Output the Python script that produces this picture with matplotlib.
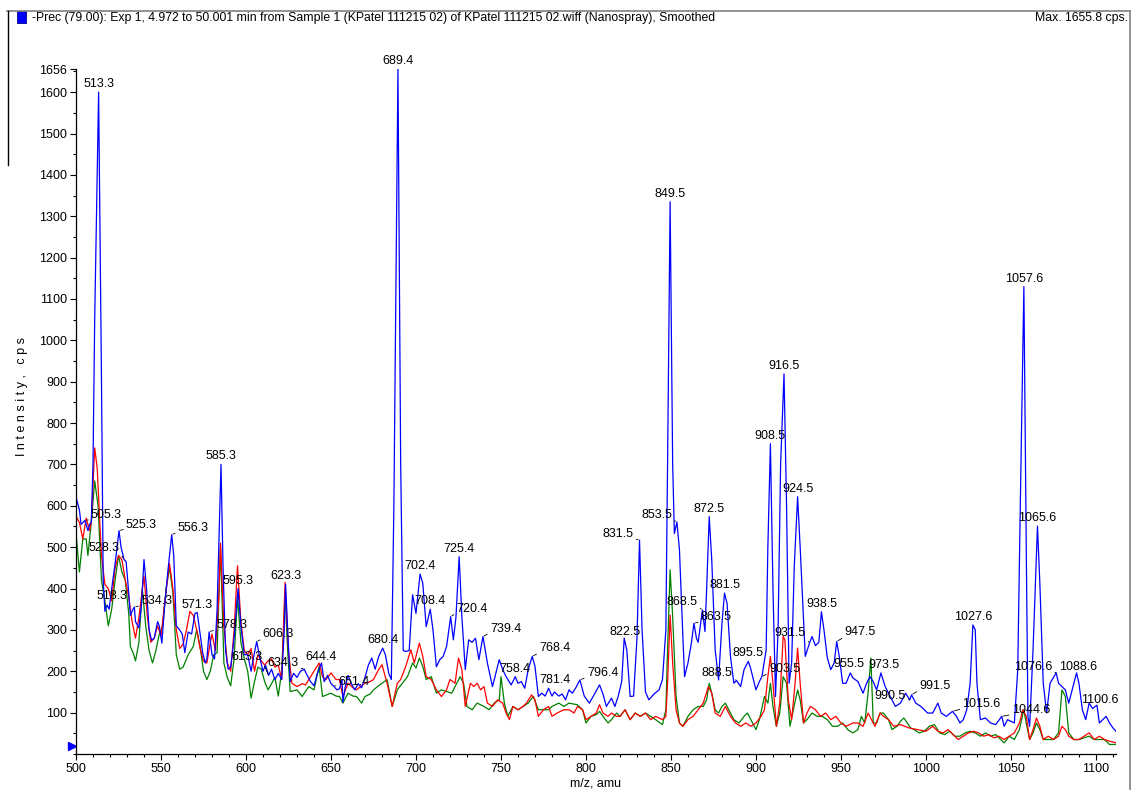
import numpy as np
import matplotlib
matplotlib.use("Agg")
import matplotlib.pyplot as plt
from matplotlib.patches import Rectangle
from matplotlib.lines import Line2D
from matplotlib import transforms
from matplotlib.ticker import MultipleLocator

plt.rcParams['font.family'] = ['Liberation Sans', 'DejaVu Sans']
plt.rcParams['font.size'] = 9

# precursor ion scan, smoothed traces (m/z, cps)
blue_mz = [500, 500.2, 502, 503, 505.3, 507, 508, 509, 510, 511, 513.3, 515, 516, 517, 518.3, 519.5,
           521, 523, 525.3, 526.5, 528.3, 529.5, 531, 532, 533.5, 534.3, 535, 537, 538.5, 540, 541.5,
           543, 544.5, 546, 548, 549, 550.5, 552, 554, 556.3, 557.5, 559, 561, 562.5, 564, 566, 568,
           570, 571.3, 573, 574.5, 576, 577, 578.3, 580, 581.5, 583, 585.3, 586.5, 588, 589.5, 591,
           593, 595.3, 597, 599, 601, 603, 604.5, 606.3, 608, 610, 611.5, 613.3, 615, 617, 619, 621,
           622.5, 623.3, 624.5, 626, 628, 630, 632, 634.3, 636, 638, 640, 642, 644.4, 646, 648, 650,
           651.4, 653.5, 655, 656.5, 657, 658.5, 660, 662, 664, 666, 668, 670, 672, 674, 676, 678,
           680.4, 682, 684, 685.5, 687, 689.4, 691, 692.5, 694, 696, 698, 700, 702.4, 704, 706,
           708.4, 710, 712, 714, 716, 718, 720.4, 722, 723.5, 725.4, 727, 729, 731, 733, 735, 737,
           739.4, 742, 745, 747, 749, 751, 753, 756, 758.4, 760, 762, 764, 766, 768.4, 770, 772,
           774, 776, 778, 780, 781.4, 784, 786, 788, 790, 792, 794, 796.4, 799, 802, 805, 808, 810,
           812, 815, 817, 819, 821, 822.5, 824, 826, 828, 830, 831.5, 833, 835, 837, 840, 843, 845,
           847, 848, 849.5, 851, 852, 853.5, 855, 857, 858, 860, 862, 863.5, 865, 866, 868.5, 870,
           871, 872.5, 874, 876, 878, 880, 881.5, 883, 885, 887, 888.5, 891, 893, 895.5, 897, 900,
           902, 903.5, 906, 907, 908.5, 910, 911.5, 913, 914.5, 916.5, 918, 919.5, 921, 922.5, 924.5,
           926, 927, 929, 931.5, 933, 935, 937, 938.5, 940, 942, 944, 946, 947.5, 949, 951, 953,
           955.5, 957, 960, 963, 965, 967, 969, 971, 973.5, 976, 978, 980, 982, 985, 988, 990.5,
           991.5, 994, 997, 999, 1001, 1004, 1007, 1009, 1012, 1015.6, 1018, 1020, 1022, 1024, 1026,
           1027.6, 1029, 1030, 1032, 1035, 1038, 1041, 1044.6, 1046, 1048, 1050, 1052, 1054, 1055.5,
           1057.6, 1059, 1060, 1061, 1063, 1065.6, 1067, 1069, 1071, 1073, 1076.6, 1078, 1080, 1082,
           1084, 1086, 1088.6, 1090, 1092, 1094, 1096, 1098, 1100.6, 1102, 1104, 1106, 1108, 1110,
           1111.8]
blue_cps = [0, 618, 590, 555, 565, 540, 555, 560, 700, 1050, 1600, 900, 420, 345, 360, 350,
            400, 460, 540, 500, 470, 465, 390, 335, 350, 355, 320, 305, 360, 470, 400,
            300, 275, 280, 320, 310, 268, 350, 440, 530, 480, 310, 300, 290, 245, 295, 290,
            340, 342, 290, 245, 220, 230, 295, 240, 230, 350, 700, 450, 250, 205, 210,
            280, 400, 310, 240, 240, 200, 235, 272, 235, 200, 215, 190, 205, 180, 195, 180,
            300, 410, 300, 175, 195, 185, 200, 205, 190, 175, 165, 195, 220, 175, 190, 170,
            165, 155, 158, 180, 125, 165, 190, 170, 155, 170, 160, 185, 215, 232, 205, 235,
            256, 240, 195, 180, 600, 1656, 700, 250, 248, 250, 385, 340, 435, 413, 308,
            350, 300, 211, 228, 236, 260, 332, 276, 330, 477, 332, 204, 276, 270, 280, 228,
            284, 220, 163, 196, 228, 204, 187, 167, 187, 171, 175, 159, 204, 236, 212, 139,
            147, 140, 159, 140, 150, 140, 145, 131, 155, 147, 160, 179, 140, 123, 145, 167, 145,
            115, 135, 115, 140, 175, 280, 252, 139, 140, 280, 517, 300, 150, 131, 145, 155, 180,
            300, 700, 1335, 700, 533, 561, 493, 284, 187, 220, 268, 316, 280, 270, 348, 296,
            400, 574, 469, 252, 179, 316, 389, 364, 236, 171, 178, 163, 204, 224, 205, 155,
            175, 187, 252, 500, 750, 400, 139, 300, 700, 919, 600, 171, 220, 450, 622,
            500, 413, 236, 268, 284, 262, 270, 344, 300, 232, 204, 220, 272, 236, 171, 171,
            196, 184, 175, 147, 170, 187, 175, 155, 196, 163, 147, 131, 115, 123, 147, 131,
            143, 123, 115, 107, 99, 99, 123, 99, 91, 103, 91, 75, 83, 107, 171,
            312, 300, 171, 83, 87, 75, 71, 91, 67, 83, 79, 75, 204, 600,
            1130, 500, 91, 67, 252, 551, 413, 171, 99, 171, 196, 171, 163, 155,
            123, 155, 196, 171, 107, 83, 123, 110, 118, 75, 83, 91, 75, 63,
            55]

red_mz = [500, 502, 504, 506, 508, 509, 510, 511, 512.5, 514, 515, 517, 519, 521, 523, 525, 527,
          529, 531, 533, 535, 537, 540, 542, 544, 546, 548, 550, 552, 555, 557, 559, 561, 563, 565,
          567, 569, 571, 573, 575, 577, 579, 580, 582, 584, 585, 587, 589, 591, 593, 595, 597, 599,
          601, 603, 605, 607, 609, 611, 613, 615, 617, 619, 621, 623, 625, 627, 630, 633, 635, 638,
          640, 643, 645, 647, 650, 653, 655, 657, 660, 663, 665, 668, 670, 673, 675, 678, 680, 683,
          686, 689, 691, 694, 697, 699, 702, 704, 706, 709, 712, 715, 718, 720, 723, 725, 727, 729,
          732, 734, 736, 738, 740, 742, 745, 748, 751, 753, 755, 757, 760, 763, 765, 768, 770, 772,
          775, 778, 780, 783, 787, 790, 793, 795, 798, 800, 803, 806, 808, 810, 813, 815, 818, 820,
          823, 826, 829, 832, 835, 838, 841, 845, 847, 848, 849.5, 851, 853, 855, 857, 860, 863,
          866, 869, 872, 874, 876, 879, 882, 885, 888, 891, 894, 897, 900, 903, 905, 907, 908.5,
          910, 912, 914, 916, 917, 919, 921, 923, 924.5, 926, 928, 930, 932, 935, 938, 941, 944,
          947, 950, 953, 957, 960, 963, 966, 968, 970, 973, 975, 978, 981, 985, 990, 995, 1000,
          1004, 1007, 1010, 1013, 1016, 1019, 1022, 1025, 1028, 1031, 1034, 1037, 1040, 1043, 1046,
          1049, 1052, 1055, 1057, 1059, 1061, 1063, 1065, 1067, 1069, 1072, 1075, 1078, 1080, 1082,
          1084, 1087, 1090, 1093, 1096, 1099, 1102, 1105, 1108, 1111.8]
red_cps = [575, 560, 520, 570, 540, 560, 650, 740, 690, 560, 480, 410, 400, 370, 450, 480, 470,
           420, 380, 320, 280, 330, 430, 330, 270, 280, 310, 285, 360, 460, 400, 300, 255, 265, 300,
           345, 335, 300, 255, 225, 220, 270, 290, 250, 380, 510, 310, 220, 200, 300, 455, 320, 250,
           240, 255, 200, 240, 225, 215, 225, 230, 210, 215, 180, 415, 250, 171, 163, 170, 167, 187,
           200, 220, 187, 180, 196, 180, 180, 139, 171, 160, 155, 165, 171, 175, 180, 204, 216, 171,
           115, 171, 180, 212, 252, 220, 268, 236, 187, 180, 155, 139, 155, 180, 171, 232, 204, 115,
           171, 163, 171, 155, 163, 123, 115, 131, 123, 99, 83, 115, 107, 115, 123, 143, 131, 91,
           107, 115, 91, 99, 107, 107, 99, 115, 107, 83, 91, 99, 119, 99, 91, 99, 91, 91,
           107, 83, 99, 91, 99, 83, 91, 83, 91, 171, 336, 220, 107, 75, 67, 83, 91,
           107, 123, 163, 147, 99, 91, 115, 91, 75, 67, 75, 67, 75, 91, 107, 187, 236,
           171, 67, 123, 284, 276, 131, 83, 171, 256, 171, 75, 99, 115, 107, 91, 99, 83,
           91, 75, 67, 75, 75, 67, 99, 83, 67, 99, 91, 83, 67, 71, 63, 59, 55,
           67, 55, 51, 59, 47, 35, 43, 51, 55, 51, 43, 47, 39, 43, 35,
           43, 51, 75, 107, 91, 35, 59, 87, 67, 35, 43, 35, 43, 67, 59,
           43, 35, 35, 43, 51, 35, 43, 35, 31, 27]

green_mz = [500, 502, 504, 506, 507, 509, 511, 513, 515, 517, 519, 521, 523, 525, 527, 529, 531,
            532, 534, 535, 537, 539, 541, 543, 545, 547, 549, 551, 553, 555, 557, 559, 561, 563, 566,
            569, 571, 573, 575, 577, 579, 581, 583, 585, 587, 589, 591, 593, 595, 597, 599, 601, 603,
            605, 607, 609, 611, 613, 615, 617, 619, 621, 623, 624.5, 626, 630, 633, 637, 640, 643,
            645, 650, 653, 655, 657, 660, 663, 665, 668, 670, 673, 675, 678, 680, 683, 686, 689, 692,
            695, 698, 700, 702, 704, 706, 709, 712, 715, 718, 721, 724, 726, 728, 730, 733, 736, 740,
            743, 746, 749, 750, 752, 754, 757, 760, 763, 766, 769, 772, 775, 778, 780, 784, 787, 790,
            795, 798, 800, 803, 806, 808, 810, 813, 815, 818, 820, 823, 826, 829, 832, 835, 838, 841,
            845, 847, 848, 849.5, 851, 853, 855, 857, 860, 863, 866, 869, 871, 872.5, 874, 876, 878,
            880, 882, 884, 887, 890, 893, 895, 898, 900, 902, 905, 907, 908.5, 910, 912, 914, 916,
            918, 920, 922, 924.5, 926, 928, 930, 933, 936, 939, 942, 945, 948, 951, 954, 957, 960,
            962, 964, 966, 967.6, 969, 971, 973, 975, 978, 980, 983, 985, 987, 989, 991, 993, 996,
            999, 1002, 1005, 1008, 1011, 1014, 1017, 1020, 1023, 1026, 1029, 1032, 1035, 1038, 1041,
            1044, 1046, 1049, 1052, 1055, 1057.5, 1059, 1061, 1063, 1065, 1067, 1069, 1072, 1075,
            1078, 1080, 1082, 1084, 1087, 1090, 1093, 1096, 1099, 1102, 1105, 1108, 1111.8]
green_cps = [534, 440, 520, 520, 480, 560, 660, 600, 420, 370, 310, 350, 420, 480, 440, 420, 340,
             260, 240, 225, 270, 400, 310, 250, 220, 250, 290, 310, 400, 450, 390, 240, 205, 210, 240,
             260, 300, 260, 200, 180, 200, 240, 245, 500, 220, 185, 165, 230, 380, 270, 230, 200, 135,
             175, 210, 205, 175, 155, 170, 185, 140, 200, 390, 250, 151, 155, 139, 163, 155, 212,
             139, 147, 140, 139, 123, 147, 140, 139, 123, 139, 145, 155, 165, 171, 180, 115, 155, 171,
             187, 220, 208, 232, 212, 180, 187, 147, 155, 151, 147, 171, 187, 171, 115, 107, 123, 115,
             107, 123, 131, 187, 123, 91, 115, 107, 115, 123, 139, 107, 107, 107, 115, 123, 115, 123,
             119, 107, 75, 91, 95, 103, 91, 75, 83, 99, 91, 107, 83, 99, 91, 99, 91, 83,
             71, 107, 252, 445, 332, 139, 75, 67, 91, 107, 115, 115, 131, 171, 147, 107, 99,
             115, 123, 107, 83, 75, 91, 99, 75, 59, 83, 139, 123, 171, 115, 67, 99, 187,
             171, 67, 107, 155, 131, 75, 83, 99, 91, 91, 83, 67, 67, 75, 59, 51, 59,
             91, 75, 150, 232, 75, 75, 99, 99, 83, 59, 67, 79, 87, 75, 63, 59, 51,
             55, 67, 71, 51, 47, 55, 43, 43, 51, 55, 51, 43, 51, 43, 47,
             35, 27, 43, 35, 59, 107, 75, 35, 51, 75, 59, 35, 35, 35,
             51, 155, 139, 51, 35, 35, 39, 43, 35, 35, 35, 23, 23]

# peak labels on the blue trace
peak_labels = [505.3, 513.3, 518.3, 525.3, 528.3, 534.3, 556.3, 571.3, 578.3, 585.3, 595.3, 606.3,
               613.3, 623.3, 634.3, 644.4, 651.4, 680.4, 689.4, 702.4, 708.4, 720.4, 725.4, 739.4,
               758.4, 768.4, 781.4, 796.4, 822.5, 831.5, 849.5, 853.5, 863.5, 868.5, 872.5, 881.5,
               888.5, 895.5, 903.5, 908.5, 916.5, 924.5, 931.5, 938.5, 947.5, 955.5, 973.5, 990.5,
               991.5, 1015.6, 1027.6, 1044.6, 1057.6, 1065.6, 1076.6, 1088.6, 1100.6]

# label placement: (side, dx, dy) in pixels from the peak
label_place = {
    505.3: ('r', 6, 5), 525.3: ('r', 7, 6), 534.3: ('r', 7, 6), 556.3: ('r', 6, 7),
    578.3: ('r', 7, 7), 606.3: ('r', 6, 7), 651.4: ('r', 5, 4), 720.4: ('r', 6, 8),
    739.4: ('r', 7, 8), 768.4: ('r', 7, 8), 796.4: ('r', 7, 7), 863.5: ('r', 7, 6),
    903.5: ('r', 7, 8), 947.5: ('r', 8, 9), 991.5: ('r', 8, 9), 1015.6: ('r', 10, 7),
    1044.6: ('r', 10, 6),
    528.3: ('l', -5, 12), 613.3: ('l', -6, 18), 634.3: ('l', -6, 6), 831.5: ('l', -6, 6),
    853.5: ('l', -5, 7), 868.5: ('l', -5, 8), 888.5: ('l', -4, 7), 931.5: ('l', -4, 10),
    990.5: ('l', -4, 4), 1076.6: ('l', -4, 6),
    518.3: ('t', 5, 9), 781.4: ('t', 1, 12), 822.5: ('t', 1, 6), 1100.6: ('t', 3, 5),
    1088.6: ('t', 2, 6), 644.4: ('t', 0, 6), 955.5: ('t', -1, 9), 973.5: ('t', 3, 8),
}

fig = plt.figure(figsize=(11.33, 7.90), dpi=100)
ax = fig.add_axes([76 / 1133, 36 / 790, 1040 / 1133, 685 / 790])

ax.plot(green_mz, green_cps, color='#008000', lw=0.9)
ax.plot(red_mz, red_cps, color='#ff0000', lw=0.9)
ax.plot(blue_mz, blue_cps, color='#0000ff', lw=0.9)

ax.set_xlim(500, 1111.8)
ax.set_ylim(0, 1656)
ax.xaxis.set_major_locator(MultipleLocator(50))
ax.xaxis.set_minor_locator(MultipleLocator(10))
ax.set_yticks(list(range(100, 1700, 100)) + [1656])
ax.yaxis.set_minor_locator(MultipleLocator(50))
ax.tick_params(which='major', length=4.3, width=0.8, pad=2, labelsize=9)
ax.tick_params(which='minor', length=2.5, width=0.8)
for s in ['top', 'right']:
    ax.spines[s].set_visible(False)
for s in ['left', 'bottom']:
    ax.spines[s].set_linewidth(0.9)

blue_at = dict(zip(blue_mz, blue_cps))
for mz in peak_labels:
    side, dx, dy = label_place.get(mz, ('t', 0, 8))
    xy = (mz, blue_at[mz])
    txt = f"{mz:.1f}"
    if side == 't':
        ax.annotate(txt, xy, xytext=(dx, dy), textcoords='offset pixels',
                    ha='center', va='center', fontsize=9)
    else:
        ha = 'left' if side == 'r' else 'right'
        rel = (0, 0.15) if side == 'r' else (1, 0.15)
        ax.annotate(txt, xy, xytext=(dx, dy), textcoords='offset pixels',
                    ha=ha, va='center', fontsize=9,
                    arrowprops=dict(arrowstyle='-', color='black', lw=0.6,
                                    shrinkA=0, shrinkB=1, relpos=rel))

# start-of-scan marker on the intensity axis
tri = transforms.offset_copy(ax.transData, fig=fig, x=-3.5, y=0, units='dots')
ax.plot([500], [20], marker='>', color='#0000ff', markersize=6, transform=tri, clip_on=False)

fig.text(596 / 1133, 1 / 790, 'm/z, amu', ha='center', va='bottom', fontsize=9)
fig.text(22 / 1133, 1 - 396 / 790, 'I n t e n s i t y ,   c p s', rotation=90,
         ha='center', va='center', fontsize=9)

# header strip
fig.add_artist(Line2D([7 / 1133, 1130 / 1133], [1 - 10.5 / 790] * 2, color='#808080', lw=1.2))
fig.add_artist(Line2D([1130 / 1133] * 2, [0, 1 - 10.5 / 790], color='#808080', lw=1.2))
fig.add_artist(Line2D([7.5 / 1133] * 2, [1 - 165 / 790, 1 - 10.5 / 790], color='black', lw=1))
fig.add_artist(Rectangle((17 / 1133, 1 - 23 / 790), 9 / 1133, 12 / 790,
                         facecolor='#0000ff', edgecolor='#000080', lw=0.6))
fig.text(32 / 1133, 1 - 18 / 790,
         '-Prec (79.00): Exp 1, 4.972 to 50.001 min from Sample 1 (KPatel 111215 02) of '
         'KPatel 111215 02.wiff (Nanospray), Smoothed', ha='left', va='center', fontsize=8.8)
fig.text(1128 / 1133, 1 - 18 / 790, 'Max. 1655.8 cps.', ha='right', va='center', fontsize=8.8)

fig.savefig('out.png', dpi=100)
